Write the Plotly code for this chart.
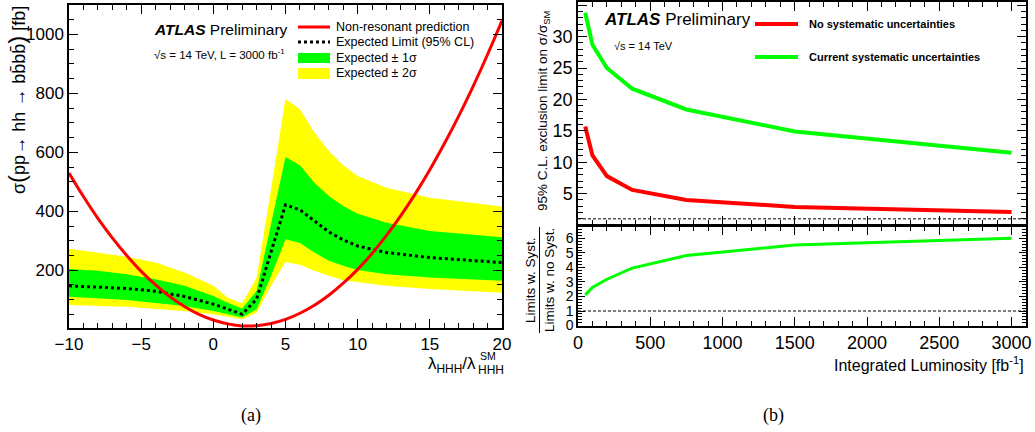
import plotly.graph_objects as go

W, H = 1035, 432

# ---------------- Data: panel (a) ----------------
lam_pred = [-10, -9, -8, -7, -6, -5, -4, -3, -2, -1, 0, 1, 2, 3, 4, 5, 6, 7, 8, 9, 10,
            11, 12, 13, 14, 15, 16, 17, 18, 19, 20]
xsec_pred = [530, 450, 376, 310, 250, 196, 150, 110, 77, 50, 31, 18, 11, 12, 19, 33, 54, 81,
             115, 156, 203, 257, 318, 386, 460, 541, 629, 723, 824, 932, 1047]

lam_band = [-10, -8, -6, -4, -2, 0, 1, 2, 3, 4, 5, 6, 7, 8, 9, 10, 12, 15, 20]
exp_limit = [147, 143, 138, 129, 111, 85, 68, 51, 102, 260, 422, 405, 367, 330, 303, 282, 260, 243, 226]
one_sig_up = [204, 198, 186, 169, 147, 113, 90, 70, 130, 357, 584, 556, 497, 452, 418, 392, 361, 333, 312]
one_sig_lo = [110, 105, 99, 90, 79, 62, 51, 40, 68, 181, 305, 292, 260, 232, 215, 201, 186, 175, 164]
two_sig_up = [273, 260, 246, 226, 192, 147, 107, 88, 175, 475, 782, 746, 667, 605, 556, 520, 480, 446, 416]
two_sig_lo = [82, 79, 76, 70, 62, 51, 43, 34, 56, 147, 228, 219, 198, 181, 166, 158, 147, 136, 124]

# ---------------- Data: panel (b) ----------------
lumi = [50, 100, 200, 375, 750, 1500, 3000]
limit_no_syst = [15.7, 11.1, 7.8, 5.6, 4.0, 2.9, 2.1]
limit_syst = [33.8, 28.7, 25.0, 21.7, 18.4, 14.9, 11.5]
ratio = [2.11, 2.63, 3.19, 3.96, 4.82, 5.55, 6.02]

RED = "#ff0000"
GREEN = "#00ff00"
YELLOW = "#ffff00"
FONT = "Liberation Sans, Arial, Helvetica, sans-serif"
SERIF = "Liberation Serif, Times New Roman, serif"


def px(x):
    return x / W


def py(y):
    return 1 - y / H


fig = go.Figure()

# panel (a)
fig.add_trace(go.Scatter(x=lam_band + lam_band[::-1], y=two_sig_up + two_sig_lo[::-1],
                         fill="toself", fillcolor=YELLOW, line=dict(width=0), mode="lines",
                         showlegend=False, hoverinfo="skip", xaxis="x", yaxis="y"))
fig.add_trace(go.Scatter(x=lam_band + lam_band[::-1], y=one_sig_up + one_sig_lo[::-1],
                         fill="toself", fillcolor=GREEN, line=dict(width=0), mode="lines",
                         showlegend=False, hoverinfo="skip", xaxis="x", yaxis="y"))
fig.add_trace(go.Scatter(x=lam_band, y=exp_limit, mode="lines",
                         line=dict(color="black", width=3, dash="dot"),
                         showlegend=False, xaxis="x", yaxis="y"))
fig.add_trace(go.Scatter(x=lam_pred, y=xsec_pred, mode="lines",
                         line=dict(color=RED, width=3, shape="spline"),
                         showlegend=False, xaxis="x", yaxis="y"))

# panel (b) top
fig.add_trace(go.Scatter(x=lumi, y=limit_syst, mode="lines", line=dict(color=GREEN, width=4),
                         showlegend=False, xaxis="x2", yaxis="y2"))
fig.add_trace(go.Scatter(x=lumi, y=limit_no_syst, mode="lines", line=dict(color=RED, width=4),
                         showlegend=False, xaxis="x2", yaxis="y2"))
# panel (b) bottom
fig.add_trace(go.Scatter(x=lumi, y=ratio, mode="lines", line=dict(color=GREEN, width=3),
                         showlegend=False, xaxis="x3", yaxis="y3"))

axis_common = dict(showline=True, linecolor="black", linewidth=1.5, mirror="ticks",
                   ticks="inside", tickcolor="black", tickwidth=1, ticklen=9,
                   showgrid=False, zeroline=False, color="black", automargin=False)

xd_a = [px(69), px(502)]
xd_b = [px(578), px(1026)]

fig.update_layout(
    width=W, height=H, margin=dict(l=0, r=0, t=0, b=0, autoexpand=False),
    paper_bgcolor="white", plot_bgcolor="white", showlegend=False,
    font=dict(family=FONT, color="black"),
    xaxis=dict(axis_common, domain=xd_a, anchor="y", range=[-10, 20], dtick=5, tick0=0,
               tickfont=dict(size=17, family=FONT),
               minor=dict(ticks="inside", ticklen=5, dtick=1, tickcolor="black", showgrid=False)),
    yaxis=dict(axis_common, domain=[py(328), py(5)], anchor="x", range=[4, 1100], dtick=200, tick0=0,
               tickfont=dict(size=17, family=FONT),
               minor=dict(ticks="inside", ticklen=5, dtick=50, tickcolor="black", showgrid=False)),
    xaxis2=dict(axis_common, domain=xd_b, anchor="y2", range=[0, 3100], dtick=500, tick0=0,
                showticklabels=False,
                minor=dict(ticks="inside", ticklen=5, dtick=100, tickcolor="black", showgrid=False)),
    yaxis2=dict(axis_common, domain=[py(224.5), py(2)], anchor="x2", range=[0.1, 35.5], dtick=5, tick0=0,
                tickfont=dict(size=18, family=FONT),
                minor=dict(ticks="inside", ticklen=5, dtick=1, tickcolor="black", showgrid=False)),
    xaxis3=dict(axis_common, domain=xd_b, anchor="y3", range=[0, 3100], dtick=500, tick0=0,
                tickfont=dict(size=18, family=FONT),
                minor=dict(ticks="inside", ticklen=5, dtick=100, tickcolor="black", showgrid=False)),
    yaxis3=dict(axis_common, domain=[py(325.5), py(226)], anchor="x3", range=[0, 6.86], dtick=1, tick0=0,
                tickfont=dict(size=14, family=FONT), ticklen=7,
                minor=dict(ticks="inside", ticklen=4, dtick=0.2, tickcolor="black", showgrid=False)),
)

shapes = []
# reference lines at 1 in panel (b)
for ya, xa in (("y2", "x2"), ("y3", "x3")):
    shapes.append(dict(type="line", xref=f"{xa} domain", yref=ya, x0=0, x1=1, y0=1, y1=1,
                       line=dict(color="black", width=1, dash="3px,2px")))

# legend keys panel (a)
shapes.append(dict(type="line", xref="paper", yref="paper", x0=px(298), x1=px(330), y0=py(27), y1=py(27),
                   line=dict(color=RED, width=3)))
shapes.append(dict(type="line", xref="paper", yref="paper", x0=px(298), x1=px(330), y0=py(42), y1=py(42),
                   line=dict(color="black", width=3, dash="dot")))
shapes.append(dict(type="rect", xref="paper", yref="paper", x0=px(298), x1=px(330), y0=py(63), y1=py(53),
                   fillcolor=GREEN, line=dict(width=0)))
shapes.append(dict(type="rect", xref="paper", yref="paper", x0=px(298), x1=px(330), y0=py(79), y1=py(68),
                   fillcolor=YELLOW, line=dict(width=0)))
# legend keys panel (b)
shapes.append(dict(type="line", xref="paper", yref="paper", x0=px(755), x1=px(798), y0=py(24), y1=py(24),
                   line=dict(color=RED, width=4)))
shapes.append(dict(type="line", xref="paper", yref="paper", x0=px(755), x1=px(798), y0=py(57), y1=py(57),
                   line=dict(color=GREEN, width=4)))
# fraction bar of ratio y title
shapes.append(dict(type="line", xref="paper", yref="paper", x0=px(539.5), x1=px(539.5), y0=py(227), y1=py(333),
                   line=dict(color="black", width=1)))
fig.update_layout(shapes=shapes)


def ann(text, x, y, size, xanchor="left", yanchor="middle", angle=0, family=FONT):
    return dict(text=text, x=px(x), y=py(y), xref="paper", yref="paper", showarrow=False,
                xanchor=xanchor, yanchor=yanchor, textangle=angle,
                font=dict(size=size, family=family, color="black"))


BIGP = "<span style='font-size:24px'>{}</span>"

annotations = [
    # panel (a)
    ann("<b><i>ATLAS</i></b> Preliminary", 152, 29, 15.5),
    ann("√s = 14 TeV, L = 3000 fb<sup>-1</sup>", 152, 54, 11.5),
    ann("Non-resonant prediction", 334, 27, 12.5),
    ann("Expected Limit (95% CL)", 334, 42, 12.5),
    ann("Expected ± 1σ", 334, 58, 12.5),
    ann("Expected ± 2σ", 334, 73, 12.5),
    ann("σ" + BIGP.format("(") + "pp→ hh → bb̄bb̄" + BIGP.format(")") + " [fb]",
        16, 100, 18, xanchor="center", angle=-90),
    ann("λ<sub>HHH</sub>/λ", 478, 365, 17, xanchor="right"),
    ann("HHH", 476, 370, 12),
    ann("SM", 478, 355.5, 10.5),
    ann("(a)", 251, 415, 18, xanchor="center", family=SERIF),
    # panel (b)
    ann("<b><i>ATLAS</i></b> Preliminary", 602, 20, 17),
    ann("√s = 14 TeV", 612, 46, 11),
    ann("<b>No systematic uncertainties</b>", 807, 24, 11),
    ann("<b>Current systematic uncertainties</b>", 807, 57, 11),
    ann("95% C.L. exclusion limit on σ/σ<sub>SM</sub>", 544, 111, 13.5, xanchor="center", angle=-90),
    ann("Limits w. Syst.", 530, 280, 13.5, xanchor="center", angle=-90),
    ann("Limits w. no Syst.", 549, 280, 13.5, xanchor="center", angle=-90),
    ann("Integrated Luminosity [fb<sup>-1</sup>]", 1026, 364, 16, xanchor="right"),
    ann("(b)", 773, 415, 18, xanchor="center", family=SERIF),
]
fig.update_layout(annotations=annotations)

fig.write_html("out.html", config={"displayModeBar": False},
               post_script="document.body.style.margin='0';document.body.style.overflow='hidden';"
                           "document.documentElement.style.overflow='hidden';")
